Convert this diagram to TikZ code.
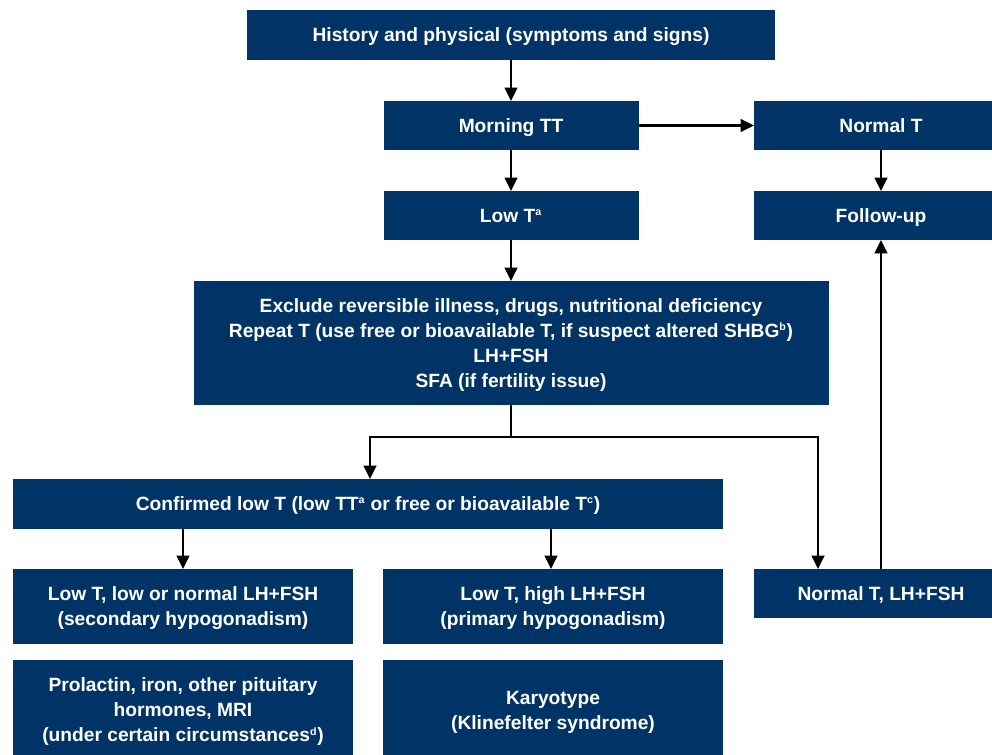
\documentclass[tikz,border=0pt]{standalone}
\usepackage{fontspec}
\setmainfont{Liberation Sans}
\usetikzlibrary{arrows.meta}
\definecolor{navy}{RGB}{0,52,102}
\newcommand\fnote[1]{\textsuperscript{\fontsize{8}{8}\selectfont #1}}

\begin{document}
\begin{tikzpicture}[x=0.75pt, y=-0.75pt, line width=1.7pt,
  box/.style = {fill=navy, text=white, align=center, inner sep=0pt, outer sep=0pt,
    text depth=0pt, font=\bfseries\fontsize{14.4}{18.75}\selectfont},
  arr/.style = {-{Triangle[length=10pt, width=9.5pt]}}]
\useasboundingbox (0,0) rectangle (992,754);
\node[box, minimum width=528*0.75pt, minimum height=50*0.75pt] (hist) at (511,35) {History and physical (symptoms and signs)};
\node[box, minimum width=255*0.75pt, minimum height=49*0.75pt] (morning) at (511,125.5) {Morning TT};
\node[box, minimum width=254*0.75pt, minimum height=49*0.75pt] (normal) at (881,125.5) {Normal T};
\node[box, minimum width=255*0.75pt, minimum height=49*0.75pt] (lowt) at (511,215.5) {Low T\fnote{a}};
\node[box, minimum width=254*0.75pt, minimum height=49*0.75pt] (follow) at (881,215.5) {Follow-up};
\node[box, minimum width=635*0.75pt, minimum height=124*0.75pt] (excl) at (511,343) {Exclude reversible illness, drugs, nutritional deficiency\\Repeat T (use free or bioavailable T, if suspect altered SHBG\fnote{b})\\LH+FSH\\SFA (if fertility issue)};
\node[box, minimum width=710*0.75pt, minimum height=50*0.75pt] (conf) at (368,504) {Confirmed low T (low TT\fnote{a} or free or bioavailable T\fnote{c})};
\node[box, minimum width=340*0.75pt, minimum height=75*0.75pt] (sec) at (183,606.5) {Low T, low or normal LH+FSH\\(secondary hypogonadism)};
\node[box, minimum width=340*0.75pt, minimum height=75*0.75pt] (prim) at (553,606.5) {Low T, high LH+FSH\\(primary hypogonadism)};
\node[box, minimum width=254*0.75pt, minimum height=49*0.75pt] (normlh) at (881,593.5) {Normal T, LH+FSH};
\node[box, minimum width=340*0.75pt, minimum height=100*0.75pt] (prol) at (183,710) {Prolactin, iron, other pituitary\\hormones, MRI\\(under certain circumstances\fnote{d})};
\node[box, minimum width=340*0.75pt, minimum height=100*0.75pt] (kary) at (553,710) {Karyotype\\(Klinefelter syndrome)};
\coordinate (split) at (511,437);
\draw[arr] (hist) -- (morning);
\draw[arr] (morning) -- (lowt);
\draw[arr] (morning) -- (normal);
\draw[arr] (normal) -- (follow);
\draw[arr] (lowt) -- (excl);
\draw (excl.south) -- (split);
\draw[arr] (split) -| (370,479);
\draw[arr] (split) -| (818,569);
\draw[arr] (sec.north |- conf.south) -- (sec.north);
\draw[arr] (551,529) -- (551,569);
\draw[arr] (normlh) -- (follow);
\end{tikzpicture}
\end{document}
